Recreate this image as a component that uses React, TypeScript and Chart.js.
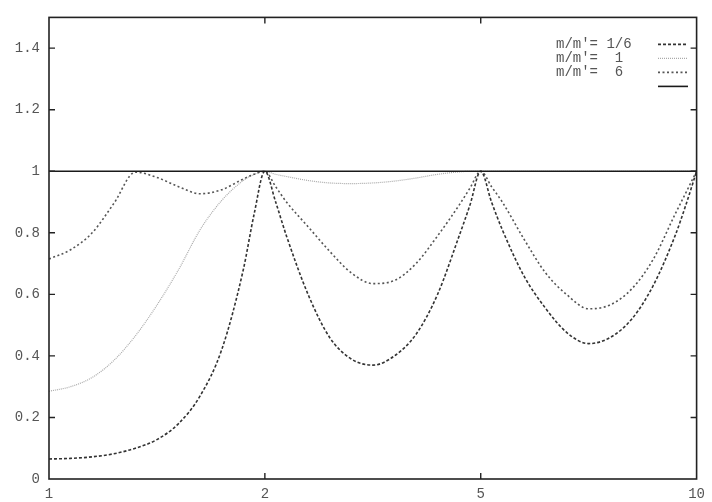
import React, { useEffect, useRef } from "react";
import { Chart, registerables } from "chart.js";
Chart.register(...registerables);

// Positions along the segmented x-axis (0 → "1", 1 → "2", 2 → "5", 3 → "10")
const xTickLabels = ["1", "2", "5", "10"];
const xTickPos = [0, 1, 2, 3];
const yTickValues = [0, 0.2, 0.4, 0.6, 0.8, 1, 1.2, 1.4];

const xPos = [
  0, 0.1, 0.2, 0.3, 0.4, 0.5, 0.6, 0.7, 0.8, 0.9, 0.95,
  1.0, 1.05, 1.1, 1.2, 1.3, 1.4, 1.5, 1.6, 1.7, 1.8, 1.9, 1.95,
  2.0, 2.05, 2.1, 2.2, 2.3, 2.4, 2.5, 2.6, 2.7, 2.8, 2.9, 2.95, 3.0,
];

// m/m' = 1/6
const ratioSixth = [
  0.065, 0.067, 0.072, 0.082, 0.1, 0.128, 0.18, 0.27, 0.42, 0.68, 0.86,
  1.0, 0.9, 0.79, 0.6, 0.46, 0.39, 0.37, 0.4, 0.47, 0.6, 0.79, 0.89,
  1.0, 0.9, 0.81, 0.66, 0.555, 0.475, 0.44, 0.46, 0.52, 0.63, 0.79, 0.89, 1.0,
];

// m/m' = 1
const ratioOne = [
  0.285, 0.3, 0.33, 0.385, 0.465, 0.565, 0.68, 0.81, 0.905, 0.97, 0.99,
  1.0, 0.99, 0.983, 0.97, 0.962, 0.96, 0.962, 0.968, 0.978, 0.99, 0.998, 1.0,
  1.0, 1.0, 1.0, 1.0, 1.0, 1.0, 1.0, 1.0, 1.0, 1.0, 1.0, 1.0, 1.0,
];

// m/m' = 6
const ratioSix = [
  0.715, 0.745, 0.8, 0.895, 0.997, 0.98, 0.95, 0.927, 0.94, 0.975, 0.99,
  1.0, 0.95, 0.9, 0.82, 0.74, 0.67, 0.635, 0.645, 0.7, 0.79, 0.89, 0.945,
  1.0, 0.95, 0.9, 0.78, 0.67, 0.598, 0.553, 0.566, 0.618, 0.715, 0.86, 0.93, 1.0,
];

const unityX = [0, 3];
const unityY = [1, 1];

const legendLabels = ["m/m'= 1/6", "m/m'=  1", "m/m'=  6", ""];

const FONT = "'Liberation Mono', 'DejaVu Sans Mono', monospace";

const toPoints = (xs: number[], ys: number[]) => xs.map((x, i) => ({ x, y: ys[i] }));

const framePlugin = {
  id: "frameTicksLegend",
  afterDraw(chart: any) {
    const { ctx, chartArea, scales } = chart;
    const { left, right, top, bottom } = chartArea;
    const xs = scales.x;
    const ys = scales.y;
    ctx.save();
    ctx.strokeStyle = "#222";
    ctx.lineWidth = 1.6;
    ctx.setLineDash([]);
    ctx.strokeRect(left, top, right - left, bottom - top);

    ctx.lineWidth = 1.4;
    yTickValues.forEach((v) => {
      if (v === 0) return;
      const py = ys.getPixelForValue(v);
      ctx.beginPath();
      ctx.moveTo(left, py);
      ctx.lineTo(left + 6, py);
      ctx.moveTo(right, py);
      ctx.lineTo(right - 6, py);
      ctx.stroke();
    });
    xTickPos.forEach((v) => {
      if (v === 0 || v === 3) return;
      const px = xs.getPixelForValue(v);
      ctx.beginPath();
      ctx.moveTo(px, bottom);
      ctx.lineTo(px, bottom - 6);
      ctx.moveTo(px, top);
      ctx.lineTo(px, top + 6);
      ctx.stroke();
    });

    // legend
    const ds = chart.data.datasets;
    ctx.font = "14px " + FONT;
    ctx.fillStyle = "#555";
    ctx.textBaseline = "middle";
    ctx.textAlign = "left";
    [0, 1, 2, 3].forEach((di, i) => {
      const d = ds[di];
      const yy = top + 27 + i * 14;
      if (legendLabels[i]) ctx.fillText(legendLabels[i], 556, yy);
      ctx.beginPath();
      ctx.strokeStyle = d.borderColor;
      ctx.lineWidth = d.borderWidth;
      ctx.setLineDash(d.borderDash || []);
      ctx.moveTo(658, yy);
      ctx.lineTo(688, yy);
      ctx.stroke();
    });
    ctx.restore();
  },
};

export default function App() {
  const ref = useRef<HTMLCanvasElement | null>(null);
  useEffect(() => {
    document.body.style.margin = "0";
    const canvas = ref.current!;
    const chart = new Chart(canvas, {
      type: "line",
      data: {
        datasets: [
          {
            label: legendLabels[0],
            data: toPoints(xPos, ratioSixth),
            borderColor: "#333",
            borderWidth: 1.6,
            borderDash: [3, 2],
            pointRadius: 0,
            cubicInterpolationMode: "monotone",
            order: 2,
          },
          {
            label: legendLabels[1],
            data: toPoints(xPos, ratioOne),
            borderColor: "#aaa",
            borderWidth: 1.2,
            borderDash: [1, 1],
            pointRadius: 0,
            cubicInterpolationMode: "monotone",
            order: 4,
          },
          {
            label: legendLabels[2],
            data: toPoints(xPos, ratioSix),
            borderColor: "#555",
            borderWidth: 1.6,
            borderDash: [2, 2.5],
            pointRadius: 0,
            cubicInterpolationMode: "monotone",
            order: 3,
          },
          {
            label: "",
            data: toPoints(unityX, unityY),
            borderColor: "#1a1a1a",
            borderWidth: 1.6,
            pointRadius: 0,
            order: 1,
          },
        ],
      },
      options: {
        animation: false,
        responsive: false,
        layout: { padding: { top: 14, right: 10, left: 0, bottom: 0 } },
        plugins: { legend: { display: false }, tooltip: { enabled: false } },
        scales: {
          x: {
            type: "linear",
            min: 0,
            max: 3,
            grid: { display: false, drawTicks: false },
            border: { display: false },
            afterBuildTicks: (s: any) => {
              s.ticks = xTickPos.map((v) => ({ value: v }));
            },
            afterFit: (s: any) => {
              s.height = 23;
            },
            ticks: {
              autoSkip: false,
              maxRotation: 0,
              padding: 7,
              color: "#555",
              font: { family: FONT, size: 14 },
              callback: (_v: any, i: number) => xTickLabels[i],
            },
          },
          y: {
            type: "linear",
            min: 0,
            max: 1.5,
            grid: { display: false, drawTicks: false },
            border: { display: false },
            afterBuildTicks: (s: any) => {
              s.ticks = yTickValues.map((v) => ({ value: v }));
            },
            afterFit: (s: any) => {
              s.width = 49;
            },
            ticks: {
              padding: 9,
              color: "#555",
              font: { family: FONT, size: 14 },
              callback: (v: any) => String(Math.round(Number(v) * 10) / 10),
            },
          },
        },
      },
      plugins: [framePlugin],
    } as any);
    return () => chart.destroy();
  }, []);
  return (
    <div style={{ position: "absolute", left: 0, top: 0, width: 712, height: 502, background: "#fff" }}>
      <canvas ref={ref} width={712} height={502} style={{ width: 712, height: 502 }} />
    </div>
  );
}
